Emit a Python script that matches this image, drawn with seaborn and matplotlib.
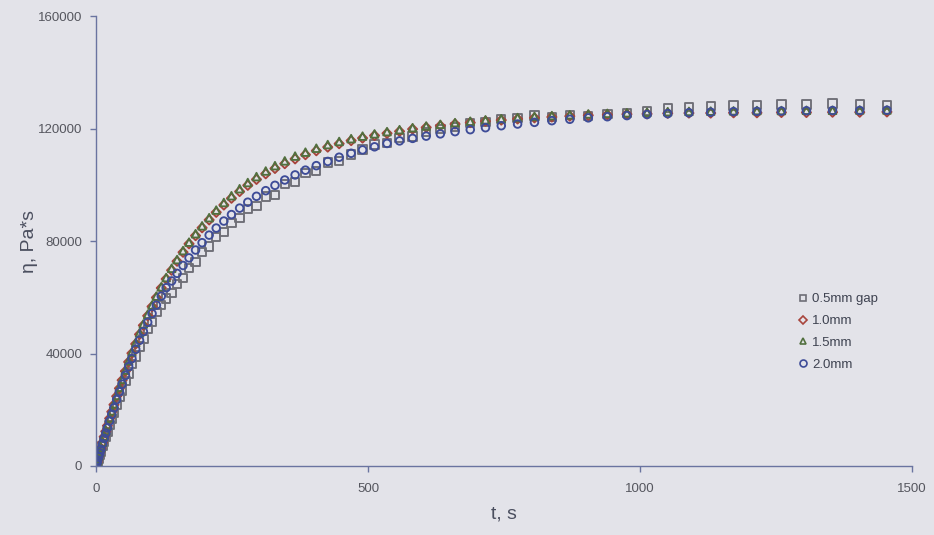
import matplotlib
matplotlib.use("Agg")
import matplotlib.pyplot as plt
import seaborn as sns
import pandas as pd
from matplotlib.lines import Line2D

# time (s)
t = [1, 2, 3, 5, 7, 9, 12, 15, 18, 21, 25, 29, 33, 38, 43, 48, 54, 60, 66, 73,
     80, 87, 95, 103, 111, 120, 129, 139, 149, 160, 171, 183, 195, 208, 221, 235,
     249, 264, 279, 295, 312, 329, 347, 366, 385, 405, 426, 447, 469, 490, 512,
     535, 558, 582, 607, 633, 660, 688, 716, 745, 775, 806, 838, 871, 905, 940,
     976, 1013, 1051, 1090, 1130, 1172, 1215, 1260, 1306, 1354, 1404, 1454]

gap_05 = [400, 1000, 1600, 2700, 3900, 5100, 7000, 8700, 10500, 12000, 14500, 16600,
          19000, 21600, 24500, 26800, 30200, 32800, 36200, 38900, 42500, 45100, 48800,
          51200, 54800, 57300, 59500, 61500, 64800, 66900, 70300, 72500, 76000, 78000,
          81500, 83200, 86500, 88200, 91300, 92500, 95800, 96400, 100200, 101000,
          104300, 105000, 107900, 108400, 110800, 112600, 114300, 114800, 116600,
          117200, 118700, 119800, 120600, 121900, 122400, 123300, 123700, 124600,
          124200, 124800, 124500, 125200, 125600, 126300, 127400, 127600, 128000,
          128200, 128400, 128600, 128500, 128900, 128600, 128400]

gap_10 = [700, 1400, 2100, 3500, 4900, 6300, 8300, 10400, 12300, 14300, 16900, 19300,
          21800, 24800, 27600, 30500, 33700, 37000, 40100, 43400, 46800, 50000, 53400,
          56700, 59900, 63300, 66500, 69600, 72800, 76000, 79000, 81900, 84700, 87500,
          90200, 92800, 95200, 97600, 99800, 101900, 103900, 105800, 107500, 109200,
          110700, 112100, 113400, 114600, 115700, 116600, 117500, 118300, 119000,
          119800, 120400, 121000, 121600, 122100, 122600, 123000, 123400, 123800,
          124100, 124400, 124700, 124900, 125100, 125200, 125400, 125500, 125500,
          125600, 125600, 125700, 125700, 125800, 125800, 125900]

gap_15 = [700, 1500, 2200, 3600, 5000, 6500, 8500, 10600, 12600, 14500, 17100, 19600,
          22100, 25100, 28000, 30800, 34100, 37400, 40500, 43900, 47300, 50500, 53900,
          57200, 60400, 63700, 67000, 70300, 73400, 76600, 79600, 82600, 85400, 88300,
          91000, 93700, 96100, 98600, 100800, 102900, 104900, 106800, 108500, 110200,
          111600, 113000, 114300, 115400, 116400, 117300, 118100, 118900, 119600,
          120300, 120900, 121500, 122100, 122600, 123100, 123500, 123900, 124300,
          124600, 124900, 125200, 125400, 125600, 125800, 126000, 126100, 126200,
          126300, 126400, 126400, 126500, 126500, 126600, 126600]

gap_20 = [600, 1300, 2000, 3300, 4600, 5900, 7900, 9800, 11700, 13600, 16000, 18400,
          20700, 23600, 26400, 29100, 32200, 35300, 38200, 41500, 44700, 47800, 51100,
          54200, 57200, 60400, 63400, 65800, 68500, 71300, 74000, 76800, 79400, 82100,
          84600, 87100, 89400, 91700, 93800, 95900, 97900, 99800, 101700, 103500,
          105200, 106800, 108300, 109800, 111200, 112400, 113500, 114700, 115600,
          116500, 117300, 118100, 118900, 119600, 120300, 121000, 121600, 122200,
          122800, 123300, 123800, 124200, 124600, 125000, 125300, 125600, 125800,
          126000, 126100, 126200, 126300, 126400, 126400, 126500]

labels = ["0.5mm gap", "1.0mm", "1.5mm", "2.0mm"]
x_ticks = [0, 500, 1000, 1500]
y_ticks = [0, 40000, 80000, 120000, 160000]

series = [gap_05, gap_10, gap_15, gap_20]
df = pd.DataFrame({
    "t": t * 4,
    "eta": sum(series, []),
    "gap": sum([[lab] * len(t) for lab in labels], []),
})

bg = "#e3e3e9"
sns.set_theme(style="white")
plt.rcParams["font.family"] = ["Liberation Sans", "DejaVu Sans"]

fig = plt.figure(figsize=(9.34, 5.35), dpi=100, facecolor=bg)
ax = fig.add_axes([0.1028, 0.129, 0.8736, 0.841])
ax.set_facecolor(bg)

markers = {"0.5mm gap": "s", "1.0mm": "D", "1.5mm": "^", "2.0mm": "o"}
colors = {"0.5mm gap": "#6e6e76", "1.0mm": "#a8443c", "1.5mm": "#52703f", "2.0mm": "#3e4c98"}
sizes = {"0.5mm gap": 36, "1.0mm": 22, "1.5mm": 30, "2.0mm": 30}
lw = 1.35

for lab in labels:
    sub = df[df["gap"] == lab]
    sns.scatterplot(data=sub, x="t", y="eta", marker=markers[lab], s=sizes[lab],
                    facecolors="none", edgecolor=colors[lab], linewidth=lw,
                    ax=ax, legend=False)

for coll, lab in zip(ax.collections, labels):
    coll.set_facecolor("none")
    coll.set_edgecolor(colors[lab])
    coll.set_linewidth(lw)

ax.set_xlim(0, 1500)
ax.set_ylim(0, 160000)
ax.set_xticks(x_ticks)
ax.set_yticks(y_ticks)
ax.set_xticklabels([str(v) for v in x_ticks])
ax.set_yticklabels([str(v) for v in y_ticks])

spine_c = "#6a74a0"
for side in ["top", "right"]:
    ax.spines[side].set_visible(False)
for side in ["left", "bottom"]:
    ax.spines[side].set_color(spine_c)
    ax.spines[side].set_linewidth(1.0)
ax.tick_params(axis="both", direction="out", length=4, width=1, color=spine_c,
               labelsize=9.5, labelcolor="#55565e", left=True, bottom=True)
ax.tick_params(axis="y", pad=6)
ax.tick_params(axis="x", pad=8)

ax.set_xlabel("t, s", fontsize=14, color="#4a4e5e", labelpad=8)
ax.set_ylabel("η, Pa*s", fontsize=14, color="#4a4e5e", labelpad=0)

handles = [Line2D([], [], linestyle="none", marker=markers[l],
                  markersize={"s": 5, "D": 4, "^": 5, "o": 5}[markers[l]],
                  markerfacecolor="none", markeredgecolor=colors[l], markeredgewidth=1.2)
           for l in labels]
leg = ax.legend(handles, labels, frameon=False, loc="upper left",
                bbox_to_anchor=(0.862, 0.384), fontsize=9.5, handlelength=0.6,
                handletextpad=0.35, labelspacing=0.72, borderaxespad=0, borderpad=0)
for txt in leg.get_texts():
    txt.set_color("#3e4250")

fig.savefig("out.png", dpi=100, facecolor=bg)
